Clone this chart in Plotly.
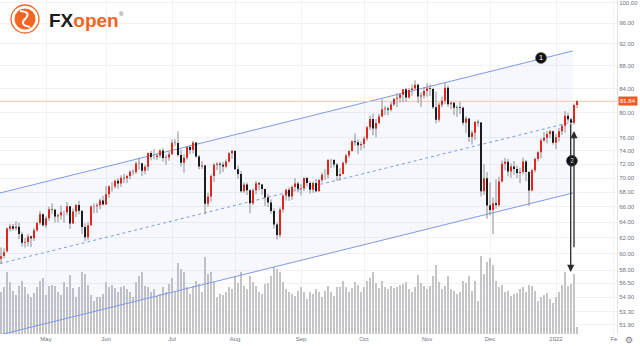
import numpy as np
import plotly.graph_objects as go

# ---------------- daily bars (Apr 12 2021 .. Jan 12 2022) ----------------
opens = [
    59.37, 59.71, 60.29, 63.13, 63.45, 63.19, 63.38, 62.43, 61.35, 61.43, 62.14, 61.91, 62.94, 63.86, 65.01,
    63.58, 64.49, 65.69, 65.63, 64.71, 64.90, 65.28, 65.28, 66.08, 63.82, 65.37, 66.27, 65.49, 63.36, 62.05, 63.58, 66.05, 66.07, 66.21, 66.85,
    66.32, 67.72, 68.83, 68.81, 69.62, 69.23, 70.05, 69.96, 70.29, 70.91, 70.88, 72.12, 72.15, 71.04, 71.64, 73.66, 73.06, 73.08, 73.30, 74.05, 72.91, 72.98,
    73.47, 75.23, 75.16, 73.37, 72.20, 72.94, 74.56, 74.10, 75.25, 73.13, 71.65, 71.81, 66.42, 67.42, 70.30, 71.91, 72.07, 71.91, 71.65, 72.39, 73.62,
    73.95, 71.26, 70.56, 68.15, 69.09, 68.28, 66.48, 68.29, 69.25, 69.09, 68.44, 67.29, 66.59, 65.46, 63.69, 62.32, 65.64, 67.54, 68.36, 67.42, 68.74, 69.21,
    68.50, 68.59, 69.99, 69.29, 68.35, 69.30, 68.14, 69.72, 70.45, 70.46, 72.61, 72.61, 71.97, 70.29, 70.56, 72.23, 73.30, 73.98, 75.45, 75.29, 74.83,
    75.03, 75.88, 77.62, 78.93, 77.43, 78.30, 79.35, 80.52, 80.64, 80.44, 81.31, 82.28, 82.44, 82.96, 83.87, 82.50, 83.76, 84.00, 84.65, 82.66, 82.81,
    83.57, 84.05, 83.91, 80.86, 78.81, 81.27, 81.93, 84.15, 81.34, 81.59, 80.79, 80.88, 80.76, 78.36, 79.01, 76.10, 76.75, 78.50, 78.39, 68.15, 69.95,
    66.18, 65.57, 66.50, 66.26, 69.49, 72.05, 72.36, 70.94, 71.67, 71.29, 70.73, 70.87, 72.38, 70.86, 68.23, 71.12, 72.76, 73.79, 75.57, 75.98, 76.56, 76.99,
    75.21, 76.08, 76.99, 77.85, 79.46, 78.90, 78.35, 81.22,
]
highs = [
    60.77, 60.66, 63.29, 63.77, 63.74, 64.09, 63.92, 62.74, 61.94, 62.46, 62.30, 63.23, 64.06, 65.47, 65.14,
    64.75, 66.04, 66.48, 65.75, 65.11, 66.18, 65.48, 66.66, 66.09, 65.79, 66.39, 66.82, 65.53, 63.85, 63.97, 66.24, 66.47, 66.54, 67.15, 67.49,
    68.87, 68.93, 69.40, 69.76, 70.00, 70.39, 70.62, 70.48, 71.08, 71.25, 72.39, 72.99, 72.19, 71.93, 73.73, 73.96, 74.25, 73.53, 74.22, 74.45, 73.43, 73.88,
    75.70, 75.78, 76.98, 74.19, 73.47, 74.64, 74.81, 75.52, 75.32, 73.37, 72.46, 71.90, 67.93, 70.53, 72.16, 72.31, 72.34, 72.30, 72.71, 73.81, 74.14,
    74.08, 71.78, 71.01, 69.38, 69.36, 68.39, 68.54, 69.59, 69.49, 69.17, 68.49, 67.80, 67.04, 65.81, 63.94, 65.93, 67.68, 68.48, 68.69, 68.97, 69.99, 69.46,
    69.13, 70.08, 70.17, 69.56, 69.50, 69.86, 69.88, 70.78, 71.26, 72.76, 72.82, 72.75, 72.17, 71.41, 72.40, 73.55, 74.14, 75.60, 76.67, 75.73, 75.45,
    76.17, 77.85, 79.48, 79.78, 78.95, 79.78, 82.18, 81.06, 80.95, 81.77, 82.32, 83.18, 83.21, 83.87, 84.12, 84.10, 84.70, 85.41, 84.87, 83.40, 84.20,
    84.88, 84.76, 84.13, 83.44, 81.66, 82.63, 84.97, 84.47, 81.80, 81.73, 81.20, 81.77, 80.95, 79.39, 79.09, 77.16, 78.54, 78.85, 78.43, 72.02, 70.83,
    69.37, 67.29, 69.81, 70.21, 72.54, 72.94, 72.78, 72.12, 72.47, 71.80, 71.49, 72.98, 72.65, 70.96, 71.34, 73.00, 73.94, 75.91, 76.86, 77.03, 77.17, 77.10,
    76.53, 77.53, 78.11, 80.24, 79.95, 79.12, 81.48, 82.04,
]
lows = [
    58.86, 59.44, 60.13, 62.77, 62.86, 62.90, 61.79, 60.88, 60.76, 60.90, 60.81, 61.56, 62.74, 63.64, 63.37,
    63.23, 64.15, 65.06, 63.95, 63.96, 64.29, 63.91, 64.88, 63.10, 63.72, 64.66, 64.99, 62.44, 61.56, 61.69, 63.49, 65.17, 65.20, 65.69, 66.20,
    66.30, 67.20, 68.07, 68.51, 68.47, 68.74, 69.28, 69.29, 69.82, 70.40, 70.57, 71.18, 70.27, 70.55, 71.03, 72.57, 72.72, 72.64, 72.92, 72.38, 71.92, 72.52,
    73.40, 74.67, 73.10, 71.65, 70.76, 72.68, 73.51, 73.60, 72.92, 71.22, 71.29, 65.01, 65.99, 66.70, 69.42, 71.14, 70.55, 70.84, 71.38, 72.21, 72.79,
    71.17, 69.90, 67.95, 67.88, 67.60, 65.15, 66.26, 67.71, 68.26, 67.66, 66.13, 65.96, 65.08, 63.15, 61.74, 62.03, 65.26, 66.85, 66.85, 66.96, 68.10, 67.98,
    67.58, 68.16, 68.82, 67.81, 67.93, 67.99, 68.09, 69.41, 69.73, 69.93, 71.46, 71.52, 69.63, 69.63, 70.52, 71.92, 72.92, 73.88, 74.73, 73.50, 74.06,
    74.37, 75.51, 77.17, 76.35, 76.08, 78.07, 79.27, 79.58, 79.56, 80.17, 81.08, 80.90, 81.68, 81.72, 81.76, 82.27, 82.77, 83.87, 81.54, 80.89, 82.30,
    82.62, 82.73, 80.56, 78.25, 78.47, 80.85, 81.36, 80.93, 80.57, 79.56, 79.28, 79.75, 77.92, 76.70, 75.31, 74.94, 75.64, 77.72, 67.40, 67.62, 64.43,
    64.85, 62.43, 65.74, 66.02, 69.37, 71.11, 70.23, 70.04, 70.48, 69.98, 69.28, 70.52, 69.55, 66.12, 68.12, 70.79, 72.41, 72.86, 75.35, 75.13, 75.92, 74.93,
    74.27, 75.39, 76.41, 76.77, 78.47, 77.90, 78.05, 80.70,
]
closes = [
    59.70, 60.18, 63.15, 63.46, 63.13, 63.38, 62.44, 61.35, 61.43, 62.14, 61.91, 62.94, 63.86, 65.01, 63.58,
    64.49, 65.69, 65.63, 64.71, 64.90, 65.28, 65.28, 66.08, 63.82, 65.37, 66.27, 65.49, 63.36, 62.05, 63.58, 66.05, 66.07, 66.21, 66.85, 66.32,
    67.72, 68.83, 68.81, 69.62, 69.23, 70.05, 69.96, 70.29, 70.91, 70.88, 72.12, 72.15, 71.04, 71.64, 73.66, 73.06, 73.08, 73.30, 74.05, 72.91, 72.98, 73.47,
    75.23, 75.16, 73.37, 72.20, 72.94, 74.56, 74.10, 75.25, 73.13, 71.65, 71.81, 66.42, 67.42, 70.30, 71.91, 72.07, 71.91, 71.65, 72.39, 73.62, 73.95,
    71.26, 70.56, 68.15, 69.09, 68.28, 66.48, 68.29, 69.25, 69.09, 68.44, 67.29, 66.59, 65.46, 63.69, 62.32, 65.64, 67.54, 68.36, 67.42, 68.74, 69.21, 68.50,
    68.59, 69.99, 69.29, 68.35, 69.30, 68.14, 69.72, 70.45, 70.46, 72.61, 72.61, 71.97, 70.29, 70.56, 72.23, 73.30, 73.98, 75.45, 75.29, 74.83, 75.03,
    75.88, 77.62, 78.93, 77.43, 78.30, 79.35, 80.52, 80.64, 80.44, 81.31, 82.28, 82.44, 82.96, 83.87, 82.50, 83.76, 84.00, 84.65, 82.66, 82.81, 83.57,
    84.05, 83.91, 80.86, 78.81, 81.27, 81.93, 84.15, 81.34, 81.59, 80.79, 80.88, 80.76, 78.36, 79.01, 76.10, 76.75, 78.50, 78.39, 68.15, 69.95, 66.18,
    65.57, 66.50, 66.26, 69.49, 72.05, 72.36, 70.94, 71.67, 71.29, 70.73, 70.87, 72.38, 70.86, 68.23, 71.12, 72.76, 73.79, 75.57, 75.98, 76.56, 76.99, 75.21,
    76.08, 76.99, 77.85, 79.46, 78.90, 78.35, 81.22, 81.84,
]
volume = [
    380, 420, 560, 470, 390, 350, 430, 480, 420, 360, 330, 370, 420, 480, 500,
    350, 430, 440, 430, 380, 350, 470, 420, 530, 410, 330, 420, 560, 540, 440, 350, 300, 330, 330, 360,
    470, 420, 440, 410, 380, 420, 430, 400, 380, 330, 470, 520, 560, 430, 420, 380, 400, 340, 360, 420, 380, 450,
    500, 380, 640, 580, 560, 420, 360, 430, 480, 450, 380, 690, 540, 560, 470, 330, 360, 350, 380, 420, 400,
    520, 460, 560, 430, 400, 520, 470, 430, 380, 360, 450, 460, 520, 600, 580, 560, 470, 400, 380, 360, 340, 390,
    420, 380, 310, 380, 360, 400, 380, 330, 390, 430, 380, 340, 420, 420, 480, 420, 380, 410, 470, 440, 380,
    420, 480, 500, 560, 460, 410, 480, 420, 400, 430, 410, 420, 440, 450, 470, 400, 380, 420, 530, 460, 430,
    400, 430, 520, 620, 470, 400, 430, 520, 400, 390, 360, 380, 480, 460, 520, 390, 480, 300, 700, 540, 650,
    680, 620, 480, 420, 440, 380, 390, 340, 360, 370, 400, 420, 380, 440, 430, 390, 300, 330, 350, 370, 310, 280,
    330, 380, 440, 560, 430, 450, 540, 60,
]
assert len(opens) == len(highs) == len(lows) == len(closes) == len(volume)

# month ticks (bar index of first session of each month)
month_ticks = [15, 35, 57, 78, 100, 121, 142, 163, 185, 204.3]
month_labels = ["May", "Jun", "Jul", "Aug", "Sep", "Oct", "Nov", "Dec", "2022", "Fe"]

# price scale labels
price_ticks = [100, 96, 92, 88, 84, 80, 76, 74, 72, 70, 68, 66, 64, 62, 60, 58, 56.5, 54.9, 53.3, 51.9]

# regression channel
channel_x = [-0.33, 190.67]
channel_upper = [67.9, 90.7]
channel_mid = [58.8, 78.5]
channel_lower = [50.85, 67.9]

last_price = 81.84

# numbered markers
marker_x = [180.0, 190.3]
marker_y = [89.4, 72.5]
marker_text = ["1", "2"]

# projection arrows: (x, start price, end price)
arrows = [(191.0, 60.6, 77.04), (189.9, 78.3, 57.8)]

X_RANGE = [-0.333, 205.333]
Y_RANGE = [np.log10(50.94), np.log10(100.61)]

RED = "#e3261b"
BLACK = "#1c1c1c"
WICK = "#8e8e8e"
BLUE = "#7f99ea"
TICK_FONT = dict(family="Liberation Sans, Arial, sans-serif", size=6, color="#6f7380")

idx = list(range(len(closes)))

fig = go.Figure()

# volume histogram (base axis, drawn under the price layer)
fig.add_trace(go.Bar(
    x=idx, y=volume, width=0.66, marker=dict(color="#c5c5c7", line=dict(width=0)),
    yaxis="y", hoverinfo="skip", showlegend=False,
))

# channel fill
fig.add_trace(go.Scatter(
    x=[channel_x[0], channel_x[1], channel_x[1], channel_x[0]],
    y=[channel_upper[0], channel_upper[1], channel_lower[1], channel_lower[0]],
    fill="toself", fillcolor="rgba(110,135,235,0.06)", line=dict(width=0),
    mode="lines", yaxis="y2", hoverinfo="skip", showlegend=False,
))
for ys, dash in [(channel_upper, "solid"), (channel_lower, "solid"), (channel_mid, "3px,3px")]:
    fig.add_trace(go.Scatter(
        x=channel_x, y=ys, mode="lines", line=dict(color=BLUE, width=1, dash=dash),
        yaxis="y2", hoverinfo="skip", showlegend=False,
    ))

# last price line
fig.add_trace(go.Scatter(
    x=X_RANGE, y=[last_price, last_price], mode="lines",
    line=dict(color="#f8c4a6", width=1), yaxis="y2", hoverinfo="skip", showlegend=False,
))

# candle wicks
wx, wy = [], []
for i, (h, l) in enumerate(zip(highs, lows)):
    wx += [i, i, None]
    wy += [l, h, None]
fig.add_trace(go.Scatter(x=wx, y=wy, mode="lines", line=dict(color=WICK, width=1),
                         yaxis="y2", hoverinfo="skip", showlegend=False))

# candle bodies
ux, uy, dx, dy = [], [], [], []
for i, (o, c) in enumerate(zip(opens, closes)):
    if c >= o:
        ux += [i, i, None]
        uy += [o, c, None]
    else:
        dx += [i, i, None]
        dy += [o, c, None]
fig.add_trace(go.Scatter(x=ux, y=uy, mode="lines", line=dict(color=RED, width=2),
                         yaxis="y2", hoverinfo="skip", showlegend=False))
fig.add_trace(go.Scatter(x=dx, y=dy, mode="lines", line=dict(color=BLACK, width=2),
                         yaxis="y2", hoverinfo="skip", showlegend=False))

# numbered circles
fig.add_trace(go.Scatter(
    x=marker_x, y=marker_y, mode="markers+text", text=marker_text,
    textposition="middle center",
    textfont=dict(family="Liberation Sans, Arial, sans-serif", size=8, color="white"),
    marker=dict(size=11, color="#111111", line=dict(color="#555555", width=0.6)),
    yaxis="y2", hoverinfo="skip", showlegend=False,
))

annotations = []
for ax_x, y_from, y_to in arrows:
    annotations.append(dict(
        x=ax_x, y=np.log10(y_to), ax=ax_x, ay=np.log10(y_from),
        xref="x", yref="y2", axref="x", ayref="y2", text="", showarrow=True,
        arrowhead=2, arrowsize=1.1, arrowwidth=1.3, arrowcolor="#2b2b2b",
    ))

# last price tag on the price scale
annotations.append(dict(
    x=1.0, xref="paper", xanchor="left", xshift=1,
    y=np.log10(last_price), yref="y2", yanchor="middle",
    text="81.84", showarrow=False, bgcolor="#f05a22", borderpad=1,
    font=dict(family="Liberation Sans, Arial, sans-serif", size=6, color="white"),
))

# plot-area pixel helpers for the logo
PW, PH = 617.0, 334.0


def px(x):
    return x / PW


def py(y):
    return 1 - y / PH


annotations.append(dict(
    x=px(47), y=py(20), xref="paper", yref="paper", xanchor="left", yanchor="middle",
    text="<b><span style='color:#1b1b1b'>FX</span><span style='color:#f26522'>open</span></b>",
    showarrow=False, font=dict(family="Liberation Sans, Arial, sans-serif", size=19),
))
annotations.append(dict(
    x=px(117), y=py(14), xref="paper", yref="paper", xanchor="left", yanchor="middle",
    text="®", showarrow=False, font=dict(family="Liberation Sans, Arial, sans-serif", size=6, color="#555555"),
))
annotations.append(dict(
    x=px(629), y=py(340), xref="paper", yref="paper", xanchor="center", yanchor="middle",
    text="⚙", showarrow=False, font=dict(family="DejaVu Sans", size=9, color="#7a7a7a"),
))

cx, cy = 25, 19
swirl = (
    f"M {px(cx - 5)},{py(cy - 8)} Q {px(cx + 7)},{py(cy - 7)} {px(cx)},{py(cy)} "
    f"Q {px(cx - 6)},{py(cy + 6)} {px(cx + 5)},{py(cy + 8)}"
)
shapes = [
    dict(type="circle", xref="paper", yref="paper",
         x0=px(cx - 14), x1=px(cx + 14), y0=py(cy + 14), y1=py(cy - 14),
         line=dict(color="#f26522", width=1.3), fillcolor="white", layer="above"),
    dict(type="circle", xref="paper", yref="paper",
         x0=px(cx - 10.5), x1=px(cx + 10.5), y0=py(cy + 10.5), y1=py(cy - 10.5),
         line=dict(width=0), fillcolor="#f26522", layer="above"),
    dict(type="path", xref="paper", yref="paper", path=swirl,
         line=dict(color="white", width=2), layer="above"),
]

fig.update_layout(
    width=640, height=346,
    margin=dict(l=0, r=23, t=0, b=12),
    paper_bgcolor="white", plot_bgcolor="white",
    showlegend=False, bargap=0,
    xaxis=dict(
        range=X_RANGE, tickmode="array", tickvals=month_ticks, ticktext=month_labels,
        showgrid=True, gridcolor="#f2f2f4", gridwidth=1, zeroline=False,
        ticks="", tickfont=TICK_FONT, showline=False, fixedrange=True,
    ),
    yaxis=dict(range=[0, 3000], visible=False, showgrid=False, fixedrange=True),
    yaxis2=dict(
        type="log", range=Y_RANGE, overlaying="y", side="right",
        tickmode="array", tickvals=price_ticks, ticktext=[f"{v:.2f}" for v in price_ticks],
        showgrid=True, gridcolor="#f2f2f4", gridwidth=1, zeroline=False,
        ticks="", tickfont=TICK_FONT, showline=True, linecolor="#e3e3e6", linewidth=1,
        fixedrange=True,
    ),
    annotations=annotations,
    shapes=shapes,
)

fig.write_html("out.html")
